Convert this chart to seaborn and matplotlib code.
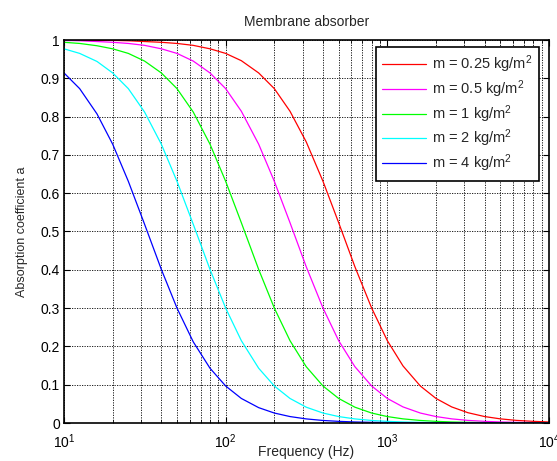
import numpy as np
import pandas as pd
import matplotlib
matplotlib.use("Agg")
import matplotlib.pyplot as plt
from matplotlib.ticker import LogLocator, LogFormatterMathtext, MultipleLocator, NullFormatter
import seaborn as sns

# Third-octave band centre frequencies (Hz)
freq = [10, 12.5, 16, 20, 25, 31.5, 40, 50, 63, 80, 100, 125, 160, 200, 250, 315,
        400, 500, 630, 800, 1000, 1250, 1600, 2000, 2500, 3150, 4000, 5000, 6300,
        8000, 10000]

# Absorption coefficient for each membrane surface mass
alpha_m025 = [1.000, 0.999, 0.999, 0.999, 0.998, 0.996, 0.994, 0.991, 0.986, 0.977,
              0.965, 0.946, 0.914, 0.873, 0.814, 0.734, 0.631, 0.523, 0.408, 0.300,
              0.215, 0.149, 0.0966, 0.0641, 0.0420, 0.0269, 0.0168, 0.0108, 0.0068,
              0.0043, 0.0027]
alpha_m05 = [0.999, 0.998, 0.996, 0.994, 0.991, 0.986, 0.977, 0.965, 0.945, 0.914,
             0.873, 0.814, 0.728, 0.631, 0.523, 0.408, 0.300, 0.215, 0.147, 0.0966,
             0.0641, 0.0420, 0.0260, 0.0168, 0.0108, 0.0068, 0.0043, 0.0027, 0.0017,
             0.0011, 0.0007]
alpha_m1 = [0.994, 0.991, 0.985, 0.977, 0.965, 0.945, 0.914, 0.873, 0.812, 0.728,
            0.631, 0.523, 0.401, 0.300, 0.215, 0.147, 0.0966, 0.0641, 0.0413, 0.0260,
            0.0168, 0.0108, 0.0066, 0.0043, 0.0027, 0.0017, 0.0011, 0.0007, 0.0004,
            0.0003, 0.0002]
alpha_m2 = [0.977, 0.965, 0.944, 0.914, 0.873, 0.812, 0.728, 0.631, 0.519, 0.401,
            0.300, 0.215, 0.143, 0.0966, 0.0641, 0.0413, 0.0260, 0.0168, 0.0107, 0.0066,
            0.0043, 0.0027, 0.0017, 0.0011, 0.0007, 0.0004, 0.0003, 0.0002, 0.0001,
            0.0001, 0.0000]
alpha_m4 = [0.914, 0.873, 0.807, 0.728, 0.631, 0.519, 0.401, 0.300, 0.212, 0.143,
            0.0966, 0.0641, 0.0401, 0.0260, 0.0168, 0.0107, 0.0066, 0.0043, 0.0027,
            0.0017, 0.0011, 0.0007, 0.0004, 0.0003, 0.0002, 0.0001, 0.0001, 0.0000,
            0.0000, 0.0000, 0.0000]

labels = ["m = 0.25 kg/m$^2$", "m = 0.5 kg/m$^2$", "m = 1 kg/m$^2$",
          "m = 2 kg/m$^2$", "m = 4 kg/m$^2$"]
colors = ["#ff0000", "#ff00ff", "#00ff00", "#00ffff", "#0000ff"]
series = [alpha_m025, alpha_m05, alpha_m1, alpha_m2, alpha_m4]

df = pd.concat(
    [pd.DataFrame({"freq": freq, "alpha": s, "mass": lab}) for s, lab in zip(series, labels)],
    ignore_index=True,
)

sns.set_style("ticks")
plt.rcParams["font.family"] = ["Liberation Sans", "DejaVu Sans"]
plt.rcParams["mathtext.default"] = "regular"
plt.rcParams["font.size"] = 10

fig = plt.figure(figsize=(5.57, 4.61), dpi=100)
ax = fig.add_axes([64 / 557, 38 / 461, 485 / 557, 383 / 461])

sns.lineplot(data=df, x="freq", y="alpha", hue="mass", hue_order=labels,
             palette=colors, linewidth=0.9, ax=ax, legend=True)

ax.set_xscale("log")
ax.set_xlim(10, 10000)
ax.set_ylim(0, 1)

ax.xaxis.set_major_locator(LogLocator(base=10))
ax.xaxis.set_major_formatter(LogFormatterMathtext())
ax.xaxis.set_minor_locator(LogLocator(base=10, subs=np.arange(2, 10)))
ax.xaxis.set_minor_formatter(NullFormatter())
ax.yaxis.set_major_locator(MultipleLocator(0.1))
ax.yaxis.set_major_formatter(plt.FuncFormatter(lambda v, p: f"{v:g}"))

grid_kw = dict(color="black", linestyle=(0, (1.5, 1.5)), linewidth=0.6)
ax.grid(True, which="major", axis="both", **grid_kw)
ax.grid(True, which="minor", axis="x", **grid_kw)

ax.tick_params(which="both", direction="in", top=True, right=True,
               labelsize=10, colors="black")
ax.tick_params(axis="x", which="major", pad=7)
ax.tick_params(axis="y", which="major", pad=3)
ax.tick_params(which="major", length=4, width=0.8)
ax.tick_params(which="minor", length=2, width=0.6)
for sp in ax.spines.values():
    sp.set_visible(True)
    sp.set_color("black")
    sp.set_linewidth(1.2)

ax.set_title("Membrane absorber", fontsize=10, pad=10)
ax.set_xlabel("Frequency (Hz)", fontsize=10)
ax.xaxis.set_label_coords(0.5, -0.058)
ax.set_ylabel("Absorption coefficient a", fontsize=9, labelpad=9)

leg = ax.legend(loc="upper right", fontsize=10.5, frameon=True, fancybox=False,
                edgecolor="black", framealpha=1, handlelength=3.0,
                borderpad=0.45, labelspacing=0.22, handletextpad=0.4,
                borderaxespad=0, bbox_to_anchor=(0.979, 0.982))
leg.get_frame().set_linewidth(1.2)

fig.savefig("out.png", dpi=100, facecolor="white")
